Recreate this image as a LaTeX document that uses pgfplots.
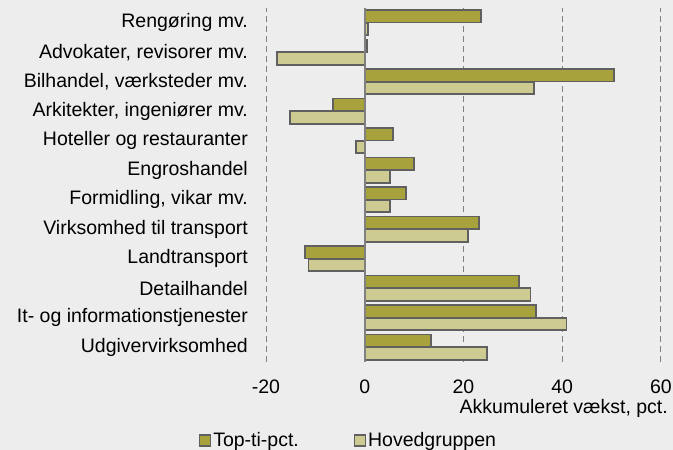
\documentclass[border=0pt]{standalone}
\usepackage{fontspec}
\setmainfont{Liberation Sans}
\usepackage{pgfplots}
\pgfplotsset{compat=1.18}
\definecolor{bg}{HTML}{EDEDED}
\definecolor{olive}{HTML}{A8A23C}
\definecolor{pale}{HTML}{CDCB91}
\definecolor{edge}{HTML}{606060}
\definecolor{gridc}{HTML}{808080}
\begin{document}
\begin{tikzpicture}
\path[use as bounding box, fill=bg] (0,0) rectangle (673bp,450bp);
\begin{axis}[
  at={(266bp,88bp)}, anchor=south west,
  scale only axis, width=395bp, height=354bp,
  xmin=-20, xmax=60, ymin=-0.5, ymax=11.5,
  axis line style={draw=none},
  major tick length=0pt,
  font=\fontsize{19.5bp}{23bp}\selectfont,
  /pgf/number format/assume math mode=true,
  xtick={-20,20,40,60},
  extra x ticks={0},
  extra x tick style={grid=none},
  xmajorgrids,
  major grid style={gridc, line width=1bp, dash pattern=on 6bp off 4bp},
  ytick={0,...,11},
  yticklabels={Udgivervirksomhed, It- og informationstjenester, Detailhandel, Landtransport, Virksomhed til transport, {Formidling, vikar mv.}, Engroshandel, Hoteller og restauranter, {Arkitekter, ingeniører mv.}, {Bilhandel, værksteder mv.}, {Advokater, revisorer mv.}, Rengøring mv.},
  y tick label style={anchor=east, inner sep=0pt, xshift=-18bp},
  x tick label style={anchor=north, inner sep=0pt, yshift=-18bp},
  xlabel={Akkumuleret vækst, pct.},
  xlabel style={at={(axis description cs:1,0)}, anchor=north east, inner sep=0pt, xshift=7bp, yshift=-37.5bp},
  xbar, bar width=12.5bp,
  legend columns=2,
  legend style={at={(0.209,-0.222)}, anchor=center, draw=none, fill=none,
    font=\fontsize{19.5bp}{23bp}\selectfont, inner sep=0pt,
    /tikz/every even column/.append style={column sep=53bp}},
  legend cell align=left,
  legend image code/.code={\draw[#1, line width=1.2bp] (0bp,-5.5bp) rectangle (11bp,5.5bp);},
]
\addplot[fill=olive, draw=edge, line width=1.6bp, bar shift=6.3bp] coordinates {
(13.4,0) (34.7,1) (31.3,2) (-12.1,3) (23.2,4) (8.4,5) (10.0,6) (5.7,7) (-6.4,8) (50.5,9) (0.4,10) (23.6,11)};
\addlegendentry{Top-ti-pct.}
\addplot[fill=pale, draw=edge, line width=1.6bp, bar shift=-6.3bp] coordinates {
(24.8,0) (40.9,1) (33.6,2) (-11.4,3) (20.9,4) (5.1,5) (5.1,6) (-1.8,7) (-15.1,8) (34.3,9) (-17.8,10) (0.7,11)};
\addlegendentry{Hovedgruppen}
\draw[gridc, line width=1.8bp] (axis cs:0,-0.57) -- (axis cs:0,11.5);
\end{axis}
\end{tikzpicture}
\end{document}
